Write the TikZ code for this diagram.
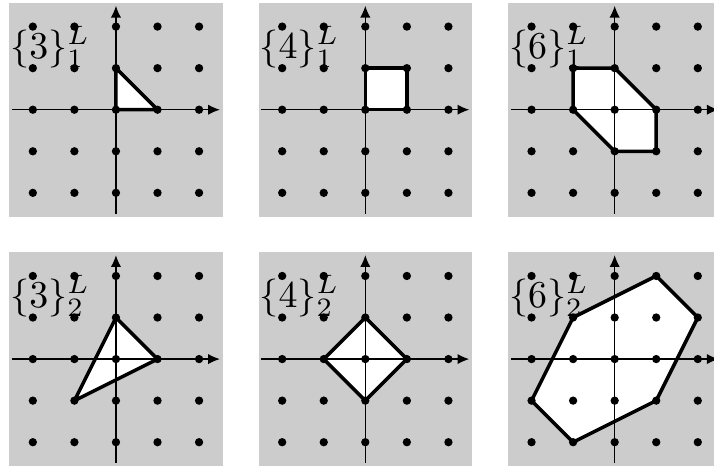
\documentclass[tikz,border=0pt]{standalone}
\usetikzlibrary{arrows.meta}
\tikzset{
  poly/.style={fill=white,draw=black,line width=2.4pt,line join=round},
  axis/.style={line width=0.8pt,-{Latex[length=8pt,width=7pt]}},
  lbl/.style={anchor=base west,inner sep=0pt,scale=2.6}
}
\begin{document}
\begin{tikzpicture}
        \useasboundingbox (-2.79,-8.62) rectangle (14.39,2.64);
        % gray panels
        \foreach \x in {0,6,12}{
            \foreach \y in {0,-6}{
                \fill [black!20] (\x-2.57,\y-2.57) rectangle (\x+2.57,\y+2.57);
            }
        }
        % polygons
        \draw [poly] (0,0) -- (1,0) -- (0,1) -- cycle;
        \draw [poly] (6,0) rectangle (7,1);
        \draw [poly] (11,1) -- (12,1) -- (13,0) -- (13,-1) -- (12,-1) -- (11,0) -- cycle;
        \draw [poly] (0,-5) -- (1,-6) -- (-1,-7) -- cycle;
        \draw [poly] (7,-6) -- (6,-5) -- (5,-6) -- (6,-7) -- cycle;
        \draw [poly] (11,-5) -- (13,-4) -- (14,-5) -- (13,-7) -- (11,-8) -- (10,-7) -- cycle;
        % axes and lattice points
        \foreach \x in {0,6,12}{
            \foreach \y in {0,-6}{
                \draw [axis] (\x-2.5,\y) -- (\x+2.5,\y);
                \draw [axis] (\x,\y-2.5) -- (\x,\y+2.5);
                \foreach \i in {-2,...,2}{
                    \foreach \j in {-2,...,2}{
                        \fill (\x+\i,\y+\j) circle (.1);
                    }
                }
            }
        }
        \node [lbl] (t1) at (-2.56,1.24) {$\{3\}_1^L$};
        \node [lbl] (s1) at (3.44,1.24) {$\{4\}_1^L$};
        \node [lbl] (h1) at (9.44,1.24) {$\{6\}_1^L$};
        \node [lbl] (t2) at (-2.56,-4.76) {$\{3\}_2^L$};
        \node [lbl] (s2) at (3.44,-4.76) {$\{4\}_2^L$};
        \node [lbl] (h2) at (9.44,-4.76) {$\{6\}_2^L$};
\end{tikzpicture}
\end{document}
